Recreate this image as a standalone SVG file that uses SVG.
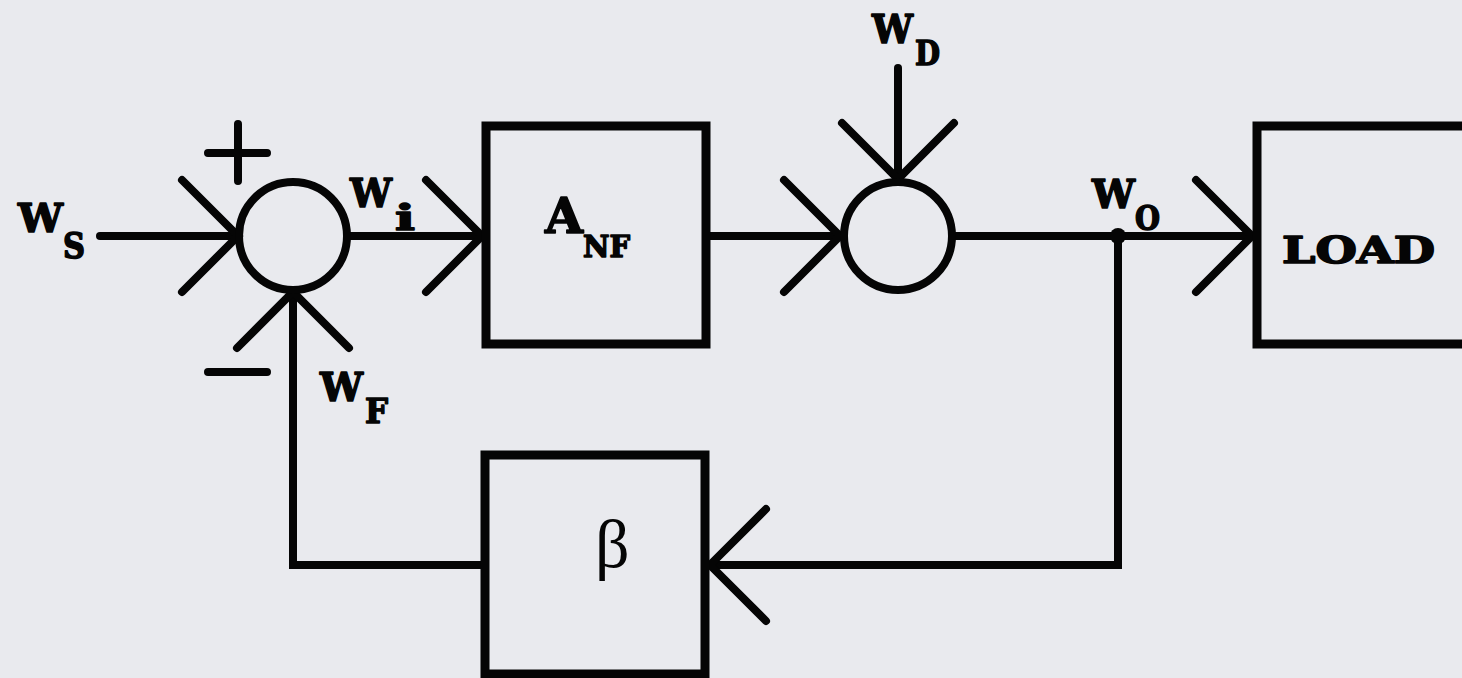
<svg xmlns="http://www.w3.org/2000/svg" width="1462" height="678" viewBox="0 0 1462 678">
  <style>
    .ln { fill: none; stroke: #050505; stroke-width: 8; stroke-linecap: round; stroke-linejoin: miter; }
    .box { fill: none; stroke: #050505; stroke-width: 9; }
    .sum { fill: none; stroke: #050505; stroke-width: 8; }
    .lbl { font-family: "DejaVu Serif", "Liberation Serif", serif; font-weight: bold; fill: #050505; stroke: #050505; stroke-width: 1.6; stroke-linejoin: round; }
    .greek { font-family: "Liberation Serif", "DejaVu Serif", serif; fill: #050505; }
  </style>
  <defs>
    <marker id="chev" markerUnits="userSpaceOnUse" markerWidth="80" markerHeight="130" viewBox="-70 -65 80 130" refX="0" refY="0" orient="auto" overflow="visible">
      <path d="M-56,-56 L0,0 L-56,56" fill="none" stroke="#050505" stroke-width="8" stroke-linecap="round" stroke-linejoin="miter"/>
    </marker>
  </defs>
  <rect x="0" y="0" width="1462" height="678" fill="#e9eaee"/>

  <g id="connectors">
    <path class="ln" d="M100,236 H238" marker-end="url(#chev)"/>
    <path class="ln" d="M349,236 H482" marker-end="url(#chev)"/>
    <path class="ln" d="M706,236 H840" marker-end="url(#chev)"/>
    <path class="ln" d="M952,236 H1252" marker-end="url(#chev)"/>
    <path class="ln" d="M898,68 V179" marker-end="url(#chev)"/>
    <path class="ln" d="M1118,236 V565 H710" marker-end="url(#chev)"/>
    <path class="ln" d="M485,565 H293 V292" marker-end="url(#chev)"/>
    <circle cx="1118" cy="236" r="8" fill="#050505"/>
  </g>

  <g id="sum1">
    <circle class="sum" cx="293" cy="236" r="54"/>
    <path class="ln" d="M208,153 H267 M238,124 V181"/>
    <path class="ln" d="M208,372 H267"/>
  </g>

  <g id="sum2">
    <circle class="sum" cx="898" cy="236" r="54"/>
  </g>

  <g id="anf">
    <rect class="box" x="486" y="126" width="220" height="218"/>
    <text class="lbl" x="545" y="233" font-size="48" textLength="38" lengthAdjust="spacingAndGlyphs">A</text>
    <text class="lbl" x="583" y="257" font-size="30" textLength="47" lengthAdjust="spacingAndGlyphs">NF</text>
  </g>

  <g id="beta">
    <rect class="box" x="485" y="455" width="220" height="219"/>
    <text class="greek" x="595" y="567" font-size="68">β</text>
  </g>

  <g id="load">
    <rect class="box" x="1257" y="126" width="300" height="218"/>
    <text class="lbl" x="1282" y="263" font-size="37" textLength="153" lengthAdjust="spacingAndGlyphs">LOAD</text>
  </g>

  <g id="label-ws">
    <text class="lbl" x="18" y="232" font-size="40" textLength="45" lengthAdjust="spacingAndGlyphs">W</text>
    <text class="lbl" x="63" y="258" font-size="35" textLength="22" lengthAdjust="spacingAndGlyphs">S</text>
  </g>
  <g id="label-wi">
    <text class="lbl" x="350" y="207" font-size="40" textLength="42" lengthAdjust="spacingAndGlyphs">W</text>
    <text class="lbl" x="395" y="230" font-size="36" textLength="20" lengthAdjust="spacingAndGlyphs">i</text>
  </g>
  <g id="label-wf">
    <text class="lbl" x="320" y="401" font-size="40" textLength="43" lengthAdjust="spacingAndGlyphs">W</text>
    <text class="lbl" x="365" y="423" font-size="34" textLength="23" lengthAdjust="spacingAndGlyphs">F</text>
  </g>
  <g id="label-wd">
    <text class="lbl" x="872" y="43" font-size="40" textLength="41" lengthAdjust="spacingAndGlyphs">W</text>
    <text class="lbl" x="915" y="65" font-size="34" textLength="25" lengthAdjust="spacingAndGlyphs">D</text>
  </g>
  <g id="label-wo">
    <text class="lbl" x="1092" y="208" font-size="40" textLength="43" lengthAdjust="spacingAndGlyphs">W</text>
    <text class="lbl" x="1135" y="230" font-size="34" textLength="25" lengthAdjust="spacingAndGlyphs">O</text>
  </g>
</svg>
